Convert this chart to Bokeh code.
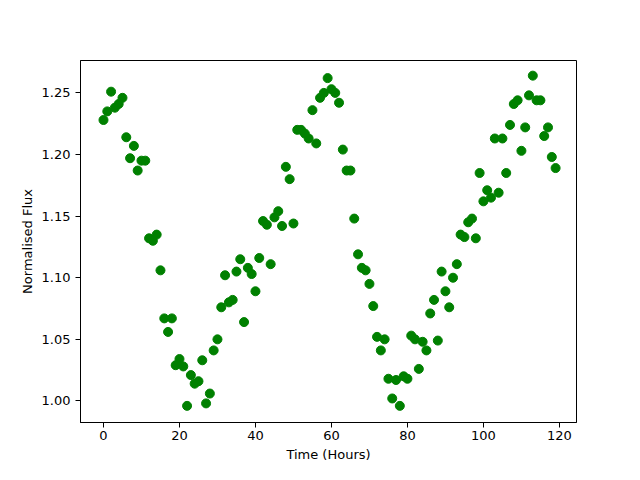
from bokeh.plotting import figure
from bokeh.models import Range1d, FixedTicker, NumeralTickFormatter
from bokeh.embed import file_html
from bokeh.resources import INLINE

hours = list(range(120))
flux = [
    1.228, 1.235, 1.251, 1.238, 1.241, 1.246, 1.214, 1.197, 1.207, 1.187,
    1.195, 1.195, 1.132, 1.130, 1.135, 1.106, 1.067, 1.056, 1.067, 1.029,
    1.034, 1.028, 0.996, 1.021, 1.014, 1.016, 1.033, 0.998, 1.006, 1.041,
    1.050, 1.076, 1.102, 1.080, 1.082, 1.105, 1.115, 1.064, 1.108, 1.103,
    1.089, 1.116, 1.146, 1.143, 1.111, 1.149, 1.154, 1.142, 1.190, 1.180,
    1.144, 1.220, 1.220, 1.217, 1.213, 1.236, 1.209, 1.246, 1.250, 1.262,
    1.253, 1.250, 1.242, 1.204, 1.187, 1.187, 1.148, 1.119, 1.108, 1.106,
    1.095, 1.077, 1.052, 1.041, 1.050, 1.018, 1.002, 1.017, 0.996, 1.020,
    1.018, 1.053, 1.050, 1.026, 1.048, 1.041, 1.071, 1.082, 1.049, 1.105,
    1.089, 1.076, 1.100, 1.111, 1.135, 1.133, 1.145, 1.148, 1.132, 1.185,
    1.162, 1.171, 1.165, 1.213, 1.169, 1.213, 1.185, 1.224, 1.241, 1.244,
    1.203, 1.222, 1.248, 1.264, 1.244, 1.244, 1.215, 1.222, 1.198, 1.189,
]
x_ticks = [0, 20, 40, 60, 80, 100, 120]
y_ticks = [1.00, 1.05, 1.10, 1.15, 1.20, 1.25]

p = figure(width=624, height=464, output_backend="svg", toolbar_location=None,
           x_range=Range1d(-6.05, 124.5), y_range=Range1d(0.9825, 1.2763),
           min_border_left=80, min_border_right=48, min_border_top=60, min_border_bottom=36)
p.scatter(hours, flux, size=9, color="#008000", line_color="#008000")

p.xgrid.visible = False
p.ygrid.visible = False
p.outline_line_color = "black"
p.outline_line_width = 1
p.xaxis.ticker = FixedTicker(ticks=x_ticks)
p.yaxis.ticker = FixedTicker(ticks=y_ticks)
p.yaxis.formatter = NumeralTickFormatter(format="0.00")
p.xaxis.axis_label = "Time (Hours)"
p.yaxis.axis_label = "Normalised Flux"
for ax in (p.xaxis, p.yaxis):
    ax.axis_label_text_font_style = "normal"
    ax.axis_label_text_font = "DejaVu Sans"
    ax.axis_label_text_font_size = "13px"
    ax.major_label_text_font = "DejaVu Sans"
    ax.major_label_text_font_size = "13px"
    ax.major_label_text_color = "black"
    ax.axis_label_text_color = "black"
    ax.minor_tick_line_color = None
    ax.major_tick_in = 0
    ax.major_tick_out = 5
    ax.axis_line_color = "black"
    ax.major_tick_line_color = "black"
p.yaxis.axis_label_standoff = 4
p.xaxis.axis_label_standoff = 4
p.xaxis.major_label_standoff = 3

open("out.html", "w").write(file_html(p, INLINE))
